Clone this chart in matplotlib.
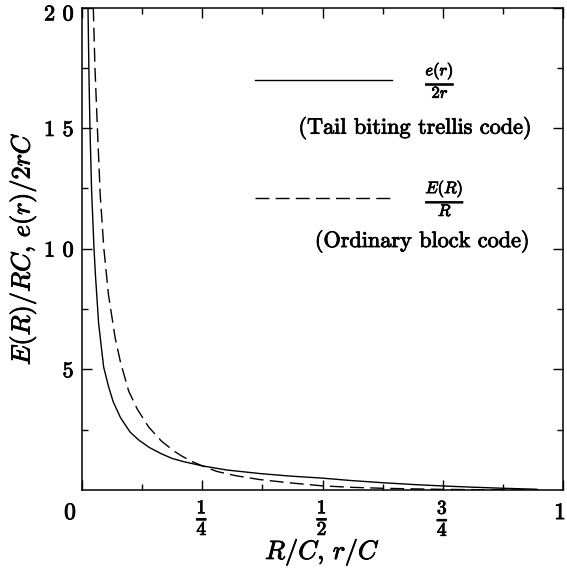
import matplotlib
matplotlib.use("Agg")
import matplotlib.pyplot as plt
import matplotlib.patheffects as pe
from matplotlib.transforms import ScaledTranslation

plt.rcParams['mathtext.fontset'] = 'cm'
plt.rcParams['axes.formatter.use_mathtext'] = True

# Tail-biting trellis code: e(r)/2r  (solid)
x_trellis = [0.0125, 0.0145, 0.0166, 0.02, 0.025, 0.028, 0.0346, 0.045, 0.055,
             0.065, 0.08, 0.1, 0.118, 0.14, 0.165, 0.187, 0.21, 0.25, 0.3,
             0.37, 0.43, 0.5, 0.56, 0.626, 0.69, 0.75, 0.81, 0.869, 0.91, 0.945]
y_trellis = [20.0, 17.2, 15.0, 12.4, 10.0, 8.9, 6.9, 5.1, 4.3,
             3.65, 3.0, 2.4, 2.07, 1.76, 1.5, 1.31, 1.18, 1.0, 0.83,
             0.68, 0.58, 0.49, 0.39, 0.30, 0.225, 0.166, 0.117, 0.075, 0.05, 0.03]

# Ordinary block code: E(R)/R  (dashed)
x_block = [0.0235, 0.027, 0.032, 0.038, 0.0455, 0.055, 0.069, 0.08, 0.097, 0.115,
           0.139, 0.165, 0.19, 0.208, 0.23, 0.25, 0.28, 0.32, 0.37, 0.43, 0.5,
           0.56, 0.626, 0.69, 0.75, 0.82, 0.9, 0.95]
y_block = [20.0, 17.5, 15.0, 12.2, 10.0, 8.1, 6.3, 5.3, 4.1, 3.35,
           2.6, 2.03, 1.63, 1.4, 1.17, 1.0, 0.77, 0.59, 0.43, 0.3, 0.17,
           0.11, 0.07, 0.045, 0.025, 0.012, 0.003, 0.0]

x_ticks = [0, 0.25, 0.5, 0.75, 1]
x_ticklabels = ['0', r'$\mathbf{\frac{1}{4}}$', r'$\mathbf{\frac{1}{2}}$', r'$\mathbf{\frac{3}{4}}$', '1']
y_ticks = [5, 10, 15, 20]
y_ticklabels = ['5', '1 0', '1 5', '2 0']

heavy = [pe.withStroke(linewidth=0.6, foreground='black')]

fig = plt.figure(figsize=(5.67, 5.70), dpi=100)
ax = fig.add_axes([0.1446, 0.1404, 0.8484, 0.8464])

dash = (10, 4.5)
ax.plot(x_trellis, y_trellis, color='black', lw=1.0)
ax.plot(x_block, y_block, color='black', lw=1.0, dashes=dash)

ax.set_xlim(0, 1)
ax.set_ylim(0, 20)
ax.set_xticks(x_ticks)
ax.set_xticklabels(x_ticklabels)
ax.set_yticks(y_ticks)
ax.set_yticklabels(y_ticklabels)
ax.set_xticks([0.125, 0.375, 0.625, 0.875], minor=True)
ax.set_yticks([2.5, 7.5, 12.5, 17.5], minor=True)
ax.tick_params(which='both', direction='in', top=True, right=True, width=1.0)
ax.tick_params(which='major', length=7.5)
ax.tick_params(which='minor', length=4.5)
ax.tick_params(axis='y', labelsize=16, pad=6)
ax.tick_params(axis='x', labelsize=16, pad=5)
xl = ax.get_xticklabels()
yl = ax.get_yticklabels()
for lab in yl:
    lab.set_fontfamily('cmr10')
    lab.set_path_effects(heavy)
for i, lab in enumerate(xl):
    lab.set_path_effects(heavy)
    if i in (0, 4):
        lab.set_fontfamily('cmr10')
        lab.set_fontsize(17)
    else:
        lab.set_fontsize(20)
for sp in ax.spines.values():
    sp.set_linewidth(1.1)

# label offsets like the reference
xl[0].set_transform(xl[0].get_transform() + ScaledTranslation(-0.12, -0.05, fig.dpi_scale_trans))
xl[4].set_transform(xl[4].get_transform() + ScaledTranslation(-0.03, -0.05, fig.dpi_scale_trans))
yl[3].set_transform(yl[3].get_transform() + ScaledTranslation(0.0, -0.05, fig.dpi_scale_trans))

ax.set_xlabel(r'$R/C,\, r/C$', fontsize=19, labelpad=-1, path_effects=heavy)
ax.set_ylabel(r'$E(R)/RC,\, e(r)/2rC$', fontsize=19, labelpad=4, path_effects=heavy)

# legend drawn manually
ax.plot([0.36, 0.645], [17.0, 17.0], color='black', lw=1.0)
ax.text(0.745, 17.0, r'$\frac{e(r)}{2r}$', fontsize=17, ha='center', va='center',
        path_effects=heavy)
ax.text(0.935, 15.0, '(Tail biting trellis code)', fontsize=16, ha='right', va='center',
        fontfamily='cmr10', path_effects=heavy)
ax.plot([0.36, 0.645], [12.1, 12.1], color='black', lw=1.0, dashes=dash)
ax.text(0.755, 12.1, r'$\frac{E(R)}{R}$', fontsize=17, ha='center', va='center',
        path_effects=heavy)
ax.text(0.93, 10.3, '(Ordinary block code)', fontsize=16, ha='right', va='center',
        fontfamily='cmr10', path_effects=heavy)

fig.savefig('out.png', dpi=100)
